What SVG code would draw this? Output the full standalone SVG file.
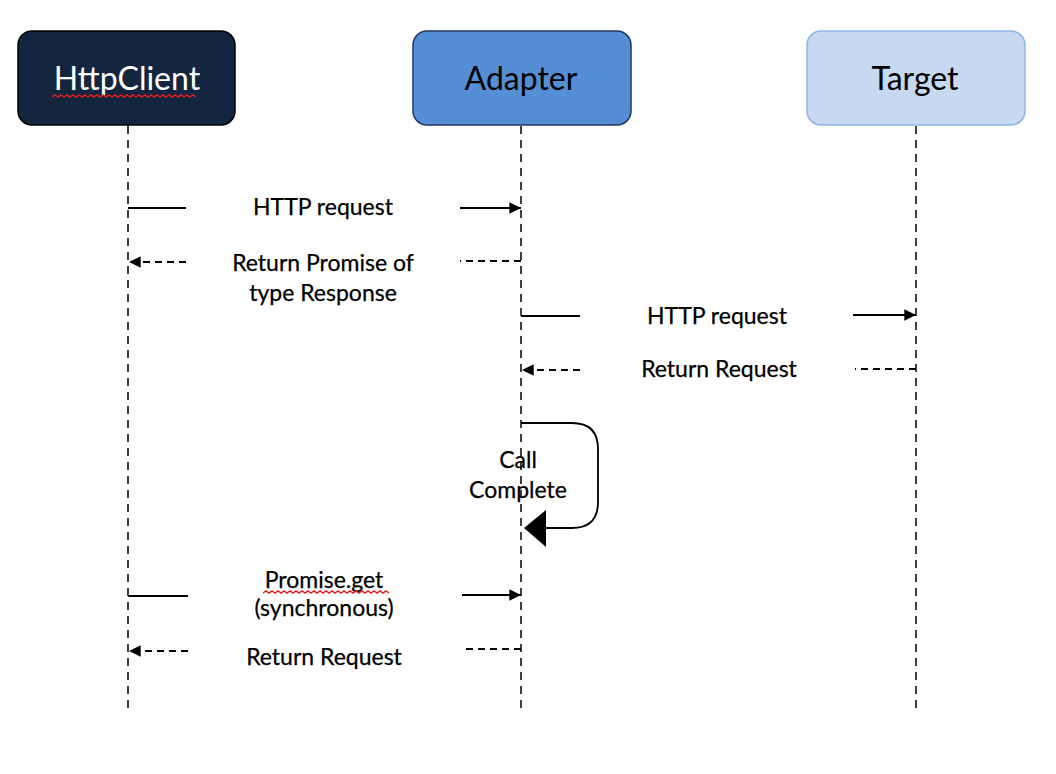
<svg xmlns="http://www.w3.org/2000/svg" width="1056" height="774" viewBox="0 0 1056 774">
<style>
.lbl{font-family:Lato,"Liberation Sans",sans-serif;font-size:23px;fill:#000;text-anchor:middle;stroke:#000;stroke-width:0.25}
.hdr{font-family:Lato,"Liberation Sans",sans-serif;font-size:32px;text-anchor:middle}
.life{stroke:#000;stroke-width:1.5;stroke-dasharray:8,6;fill:none}
.sol{stroke:#000;stroke-width:1.8;fill:none}
.dsh{stroke:#000;stroke-width:1.8;stroke-dasharray:7,5;fill:none}
.squig{stroke:#e02020;stroke-width:1.5;fill:none}
</style>
<defs>
<marker id="ah" viewBox="0 0 10 10" refX="10" refY="5" markerWidth="6.5" markerHeight="6.5" orient="auto" markerUnits="strokeWidth">
<path d="M0,0 L10,5 L0,10 z" fill="#000"/>
</marker>
</defs>
<rect width="1056" height="774" fill="#fff"/>
<g id="node-httpclient">
<rect x="18" y="31" width="217" height="94" rx="14" fill="#14253F" stroke="#000" stroke-width="1.5"/>
<text class="hdr" x="127" y="90" fill="#fff">HttpClient</text>
<path class="squig" d="M52,97 l3,-2 l3,2 l3,-2 l3,2 l3,-2 l3,2 l3,-2 l3,2 l3,-2 l3,2 l3,-2 l3,2 l3,-2 l3,2 l3,-2 l3,2 l3,-2 l3,2 l3,-2 l3,2 l3,-2 l3,2 l3,-2 l3,2 l3,-2 l3,2 l3,-2 l3,2 l3,-2 l3,2 l3,-2 l3,2 l3,-2 l3,2 l3,-2 l3,2 l3,-2 l3,2 l3,-2 l3,2 l3,-2 l3,2 l3,-2 l3,2 l3,-2 l3,2 l3,-2 l3,2"/>
</g>
<g id="node-adapter">
<rect x="413" y="31" width="218" height="94" rx="14" fill="#558ED5" stroke="#1F3A60" stroke-width="1.5"/>
<text class="hdr" x="521" y="90" fill="#000">Adapter</text>
</g>
<g id="node-target">
<rect x="807" y="31" width="218" height="94" rx="14" fill="#C6D9F1" stroke="#8EB4E3" stroke-width="1.5"/>
<text class="hdr" x="915" y="90" fill="#000">Target</text>
</g>
<g id="connectors">
<line class="life" x1="128" y1="126" x2="128" y2="708"/>
<line class="life" x1="521" y1="126" x2="521" y2="708"/>
<line class="life" x1="916" y1="126" x2="916" y2="708"/>
<line class="sol" x1="128" y1="208" x2="186" y2="208"/>
<line class="sol" x1="460" y1="208" x2="521" y2="208" marker-end="url(#ah)"/>
<line class="dsh" x1="521" y1="261" x2="460" y2="261"/>
<line class="dsh" x1="186" y1="262" x2="129" y2="262" marker-end="url(#ah)"/>
<line class="sol" x1="521" y1="316" x2="580" y2="316"/>
<line class="sol" x1="853" y1="315" x2="916" y2="315" marker-end="url(#ah)"/>
<line class="dsh" x1="916" y1="369" x2="855" y2="369"/>
<line class="dsh" x1="580" y1="370" x2="522" y2="370" marker-end="url(#ah)"/>
<path class="sol" d="M521,423 H572 Q598,423 598,449 V502 Q598,528 572,528 H545"/>
<polygon points="524,528 546,510 546,547" fill="#000"/>
<line class="sol" x1="128" y1="596" x2="188" y2="596"/>
<line class="sol" x1="462" y1="595" x2="521" y2="595" marker-end="url(#ah)"/>
<line class="dsh" x1="521" y1="649" x2="462" y2="649"/>
<line class="dsh" x1="188" y1="651" x2="129" y2="651" marker-end="url(#ah)"/>
</g>
<g id="labels">
<text class="lbl" x="323" y="215">HTTP request</text>
<text class="lbl" x="323" y="271">Return Promise of</text>
<text class="lbl" x="323" y="301">type Response</text>
<text class="lbl" x="717" y="324">HTTP request</text>
<text class="lbl" x="719" y="377">Return Request</text>
<text class="lbl" x="518" y="468">Call</text>
<text class="lbl" x="518" y="498">Complete</text>
<text class="lbl" x="324" y="588">Promise.get</text>
<path class="squig" d="M263,593 l3,-2 l3,2 l3,-2 l3,2 l3,-2 l3,2 l3,-2 l3,2 l3,-2 l3,2 l3,-2 l3,2 l3,-2 l3,2 l3,-2 l3,2 l3,-2 l3,2 l3,-2 l3,2 l3,-2 l3,2 l3,-2 l3,2 l3,-2 l3,2 l3,-2 l3,2 l3,-2 l3,2 l3,-2 l3,2 l3,-2 l3,2 l3,-2 l3,2 l3,-2 l3,2 l3,-2 l3,2 l3,-2 l3,2"/>
<text class="lbl" x="324" y="616">(synchronous)</text>
<text class="lbl" x="324" y="665">Return Request</text>
</g>
</svg>
